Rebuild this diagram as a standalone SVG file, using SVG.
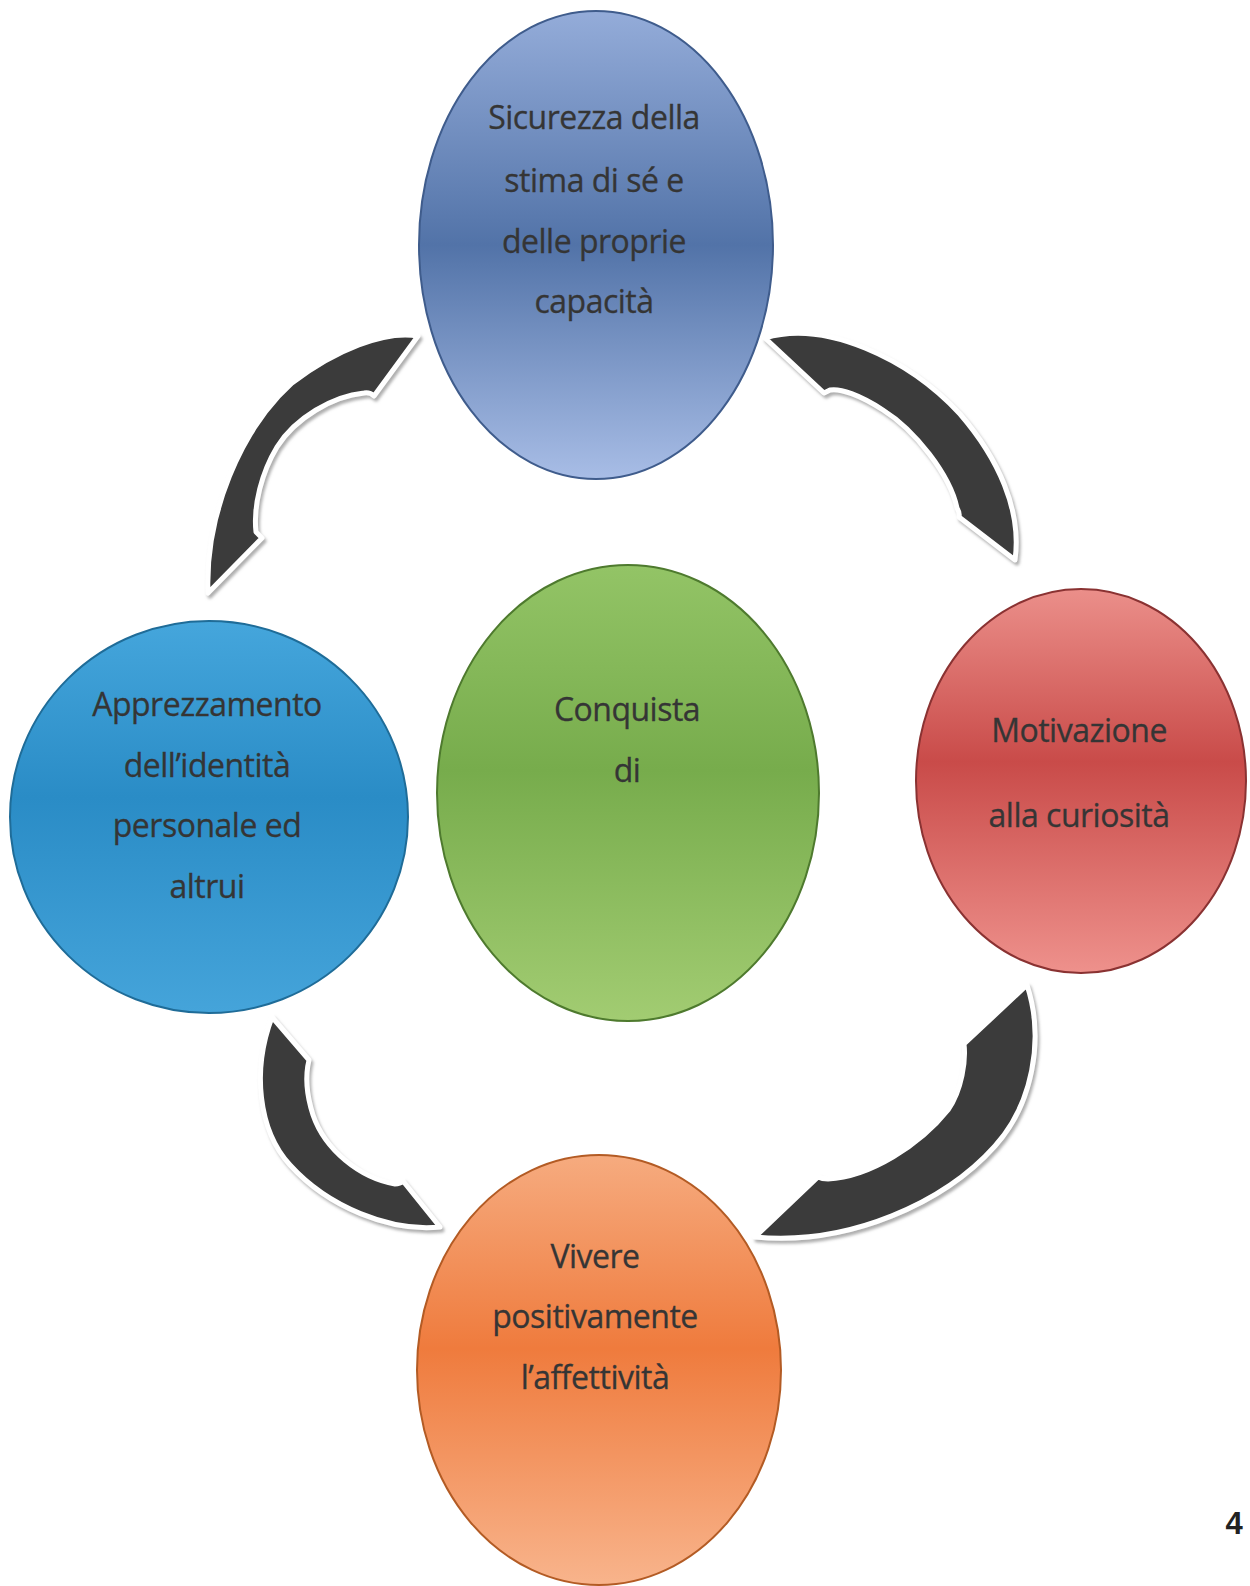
<svg xmlns="http://www.w3.org/2000/svg" width="1250" height="1586" viewBox="0 0 1250 1586">
<defs>
<linearGradient id="gBlue" x1="0" y1="0" x2="0" y2="1">
<stop offset="0" stop-color="#94acd9"/><stop offset="0.5" stop-color="#5273a8"/><stop offset="1" stop-color="#a8bde6"/>
</linearGradient>
<linearGradient id="gCyan" x1="0" y1="0" x2="0" y2="1">
<stop offset="0" stop-color="#45a6dc"/><stop offset="0.45" stop-color="#2a8cc6"/><stop offset="1" stop-color="#45a4da"/>
</linearGradient>
<linearGradient id="gGreen" x1="0" y1="0" x2="0" y2="1">
<stop offset="0" stop-color="#93c466"/><stop offset="0.45" stop-color="#77ac4c"/><stop offset="1" stop-color="#a2cc72"/>
</linearGradient>
<linearGradient id="gRed" x1="0" y1="0" x2="0" y2="1">
<stop offset="0" stop-color="#eb8f8a"/><stop offset="0.45" stop-color="#c94b49"/><stop offset="1" stop-color="#ee918c"/>
</linearGradient>
<linearGradient id="gOrange" x1="0" y1="0" x2="0" y2="1">
<stop offset="0" stop-color="#f6ab7f"/><stop offset="0.45" stop-color="#ef7b3d"/><stop offset="1" stop-color="#f8b48c"/>
</linearGradient>
<filter id="sh" x="-20%" y="-20%" width="140%" height="140%">
<feDropShadow dx="2" dy="3" stdDeviation="1.5" flood-color="#9a9a9a" flood-opacity="0.8"/>
</filter>
</defs>
<style>
.arc{fill:#3a3a3a;stroke:#ffffff;stroke-width:5;stroke-linejoin:round}
.node{stroke-width:2}
.lbl{font-family:"Open Sans","Noto Sans",sans-serif;font-size:32px;fill:#353535;stroke:#353535;stroke-width:0.3;text-anchor:middle;letter-spacing:-0.5px}
.num{font-family:"Liberation Sans",Arial,sans-serif;font-size:31px;font-weight:bold;fill:#222;text-anchor:middle}
</style>
<rect width="1250" height="1586" fill="#ffffff"/>
<g id="connectors" filter="url(#sh)">
<path class="arc" d="M208,593 C205,515 240,430 292,383 C335,350 385,330 418,336 L374,396 Q370,392 364,393 C333,396 295,418 277,447 C262,472 253,505 256,532 L262,538 Z"/>
<path class="arc" d="M765,338 C825,320 908,358 960,414 C998,458 1022,510 1015,560 L959,517 Q960,513 957,508 C950,475 915,430 883,410 C860,395 840,388 830,390 L824,393 Z"/>
<path class="arc" d="M272,1017 C252,1070 258,1130 290,1165 C328,1207 390,1232 440,1227 L403,1181 Q400,1184 395,1184 C360,1178 325,1150 313,1115 C305,1090 306,1072 309,1060 Z"/>
<path class="arc" d="M1027,985 C1045,1040 1032,1105 995,1146 C945,1202 850,1246 755,1237 L818,1177 Q822,1179 828,1179 C870,1177 920,1145 948,1110 C962,1090 966,1060 964,1044 Z"/>
</g>
<g id="node-top">
<ellipse class="node" cx="596" cy="245" rx="177" ry="234" fill="url(#gBlue)" stroke="#3f5c8c"/>
<text class="lbl" x="594" y="129">Sicurezza della</text>
<text class="lbl" x="594" y="192">stima di sé e</text>
<text class="lbl" x="594" y="253">delle proprie</text>
<text class="lbl" x="594" y="313">capacità</text>
</g>
<g id="node-left">
<ellipse class="node" cx="209" cy="817" rx="199" ry="196" fill="url(#gCyan)" stroke="#1f6c98"/>
<text class="lbl" x="207" y="716">Apprezzamento</text>
<text class="lbl" x="207" y="777">dell’identità</text>
<text class="lbl" x="207" y="837">personale ed</text>
<text class="lbl" x="207" y="898">altrui</text>
</g>
<g id="node-center">
<ellipse class="node" cx="628" cy="793" rx="191" ry="228" fill="url(#gGreen)" stroke="#4e7a2e"/>
<text class="lbl" x="627" y="721">Conquista</text>
<text class="lbl" x="627" y="782">di</text>
</g>
<g id="node-right">
<ellipse class="node" cx="1081" cy="781" rx="165" ry="192" fill="url(#gRed)" stroke="#8a3232"/>
<text class="lbl" x="1079" y="742">Motivazione</text>
<text class="lbl" x="1079" y="827">alla curiosità</text>
</g>
<g id="node-bottom">
<ellipse class="node" cx="599" cy="1370" rx="182" ry="215" fill="url(#gOrange)" stroke="#b35b24"/>
<text class="lbl" x="595" y="1268">Vivere</text>
<text class="lbl" x="595" y="1328">positivamente</text>
<text class="lbl" x="595" y="1389">l’affettività</text>
</g>
<text class="num" x="1234" y="1534">4</text>
</svg>
